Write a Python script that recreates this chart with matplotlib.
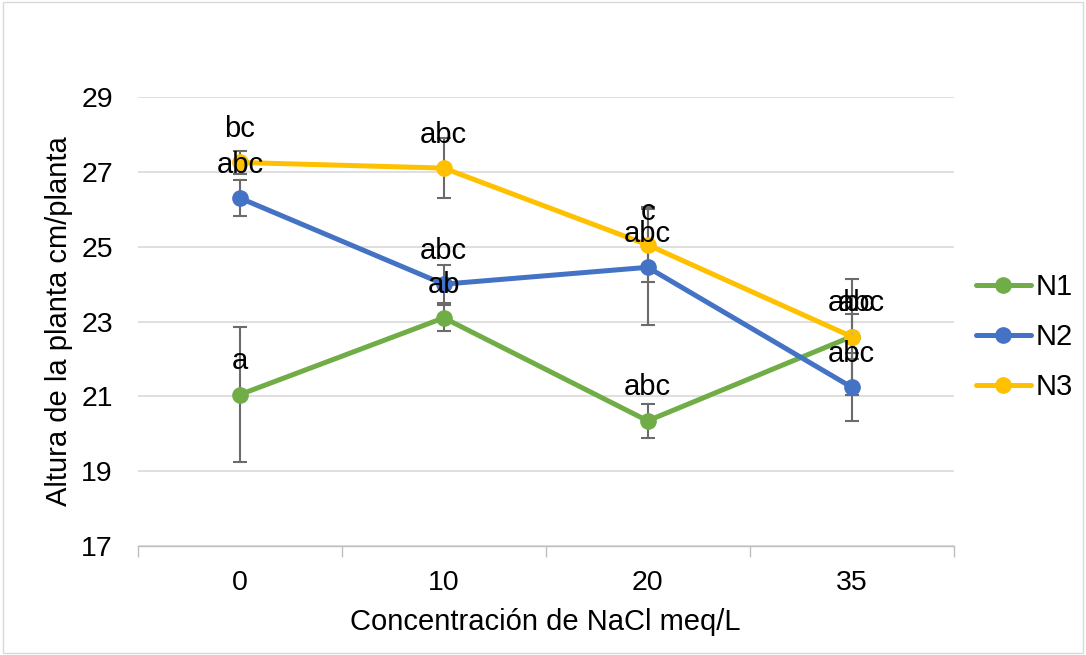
import matplotlib.pyplot as plt
from matplotlib.patches import Rectangle

plt.rcParams['font.family'] = ['Liberation Sans', 'DejaVu Sans']

categorias = ['0', '10', '20', '35']
series = ['N1', 'N2', 'N3']
colores = ['#70AD47', '#4472C4', '#FFC000']

n1 = [21.05, 23.1, 20.35, 22.6]
n2 = [26.3, 24.0, 24.45, 21.25]
n3 = [27.25, 27.1, 25.05, 22.6]
n1_err = [1.8, 0.35, 0.45, 0.6]
n2_err = [0.47, 0.5, 1.55, 0.9]
n3_err = [0.3, 0.8, 1.0, 1.55]

n1_letras = ['a', 'ab', 'abc', 'abc']
n2_letras = ['abc', 'abc', 'abc', 'abc']
n3_letras = ['bc', 'abc', 'c', 'abc']

valores = [n1, n2, n3]
errores = [n1_err, n2_err, n3_err]
letras = [n1_letras, n2_letras, n3_letras]

fig = plt.figure(figsize=(10.86, 6.55), dpi=100)
ax = fig.add_axes([0.127, 0.166, 0.751, 0.686])

x = list(range(len(categorias)))
for nombre, ys, err, col in zip(series, valores, errores, colores):
    ax.errorbar(x, ys, yerr=err, fmt='none', ecolor='#6b6b6b', elinewidth=1.5,
                capsize=5, capthick=1.5, zorder=2)
    ax.plot(x, ys, color=col, linewidth=3.6, marker='o', markersize=11,
            label=nombre, zorder=3, solid_capstyle='round')

# letras de significancia
for s, (ys, lts) in enumerate(zip(valores, letras)):
    for i, (yv, t) in enumerate(zip(ys, lts)):
        if i == 3 and s == 2:
            # etiqueta desplazada con linea guia, como en el original
            ax.annotate(t, (i, yv), xytext=(7, 24), textcoords='offset points',
                        ha='center', va='center', fontsize=21, color='black', zorder=4,
                        arrowprops=dict(arrowstyle='-', color='#a6a6a6', lw=1.2,
                                        shrinkA=10, shrinkB=2))
        else:
            ax.annotate(t, (i, yv), xytext=(0, 24), textcoords='offset points',
                        ha='center', va='center', fontsize=21, color='black', zorder=4)

ax.set_xlim(-0.5, 3.5)
ax.set_ylim(17, 29)
ax.set_yticks(range(17, 30, 2))
ax.set_xticks(x)
ax.set_xticklabels(categorias)
ax.set_xticks([-0.5, 0.5, 1.5, 2.5, 3.5], minor=True)
ax.tick_params(axis='x', which='major', length=0, pad=17, labelsize=20.5)
ax.tick_params(axis='x', which='minor', length=8, color='#bfbfbf', width=1)
ax.tick_params(axis='y', length=0, pad=18, labelsize=20.5)
ax.grid(axis='y', color='#d9d9d9', linewidth=1.2)
ax.set_axisbelow(True)
for lado in ['top', 'right', 'left']:
    ax.spines[lado].set_visible(False)
ax.spines['bottom'].set_color('#bfbfbf')
ax.spines['bottom'].set_linewidth(1)

ax.set_xlabel('Concentración de NaCl meq/L', fontsize=21, labelpad=9)
ax.set_ylabel('Altura de la planta cm/planta', fontsize=21, labelpad=6)

ax.legend(loc='center left', bbox_to_anchor=(0.995, 0.465), frameon=False,
          fontsize=21, handlelength=1.9, labelspacing=0.75, handletextpad=0.15)

fig.patches.append(Rectangle((0.003, 0.003), 0.994, 0.994, transform=fig.transFigure,
                             fill=False, edgecolor='#d9d9d9', linewidth=1))

fig.savefig('out.png', dpi=100)
